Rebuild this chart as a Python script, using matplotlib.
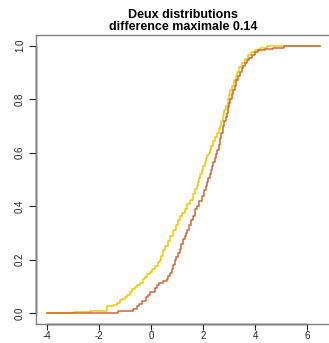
import matplotlib
matplotlib.use("Agg")
import matplotlib.pyplot as plt

x_jaune = [-4.0, -2.95, -2.35, -1.7, -1.68, -1.45, -1.3, -1.2, -1.1, -1.0, -0.92,
           -0.82, -0.73, -0.63, -0.55, -0.42, -0.3, -0.22, -0.15, -0.05, 0.05,
           0.15, 0.27, 0.33, 0.38, 0.46, 0.55, 0.65, 0.75, 0.85, 0.95, 1.05, 1.12,
           1.2, 1.3, 1.4, 1.5, 1.6, 1.69, 1.75, 1.8, 1.86, 1.9, 1.96, 2.0, 2.06,
           2.1, 2.16, 2.22, 2.27, 2.32, 2.4, 2.46, 2.52, 2.6, 2.65, 2.7, 2.76,
           2.82, 2.88, 2.95, 3.0, 3.05, 3.12, 3.18, 3.25, 3.3, 3.4, 3.5, 3.6,
           3.73, 3.85, 4.0, 4.2, 4.46, 6.5]
y_jaune = [0.0, 0.005, 0.01, 0.02, 0.027, 0.032, 0.04, 0.048, 0.055, 0.062, 0.07,
           0.08, 0.09, 0.098, 0.105, 0.115, 0.127, 0.136, 0.145, 0.155, 0.165,
           0.175, 0.19, 0.2, 0.215, 0.235, 0.25, 0.27, 0.29, 0.31, 0.33, 0.35,
           0.365, 0.375, 0.39, 0.41, 0.425, 0.445, 0.463, 0.475, 0.49, 0.505,
           0.52, 0.535, 0.55, 0.565, 0.58, 0.59, 0.6, 0.61, 0.625, 0.645, 0.66,
           0.675, 0.69, 0.7, 0.72, 0.74, 0.76, 0.775, 0.8, 0.82, 0.836, 0.85,
           0.87, 0.885, 0.9, 0.92, 0.937, 0.95, 0.966, 0.975, 0.985, 0.99, 1.0,
           1.0]

x_rouge = [-4.0, -1.27, -0.69, -0.54, -0.45, -0.35, -0.2, -0.1, -0.04, 0.15, 0.25,
           0.31, 0.45, 0.6, 0.65, 0.72, 0.8, 0.86, 0.92, 0.98, 1.04, 1.1, 1.16,
           1.23, 1.3, 1.35, 1.4, 1.47, 1.55, 1.6, 1.69, 1.75, 1.85, 1.95, 2.04,
           2.1, 2.15, 2.2, 2.25, 2.3, 2.35, 2.4, 2.45, 2.5, 2.54, 2.6, 2.65, 2.7,
           2.77, 2.82, 2.87, 2.92, 2.96, 3.0, 3.05, 3.1, 3.15, 3.22, 3.28, 3.35,
           3.42, 3.5, 3.55, 3.62, 3.69, 3.78, 3.88, 4.0, 4.1, 4.4, 4.7, 5.1, 6.5]
y_rouge = [0.0, 0.01, 0.015, 0.027, 0.035, 0.045, 0.06, 0.07, 0.08, 0.095, 0.105,
           0.115, 0.12, 0.127, 0.14, 0.15, 0.165, 0.18, 0.2, 0.21, 0.225, 0.24,
           0.26, 0.276, 0.29, 0.3, 0.31, 0.33, 0.35, 0.365, 0.39, 0.4, 0.42, 0.44,
           0.46, 0.475, 0.49, 0.505, 0.52, 0.535, 0.55, 0.565, 0.58, 0.595, 0.61,
           0.63, 0.655, 0.675, 0.7, 0.72, 0.735, 0.75, 0.77, 0.785, 0.8, 0.82,
           0.836, 0.85, 0.87, 0.885, 0.9, 0.915, 0.925, 0.935, 0.948, 0.955,
           0.966, 0.975, 0.985, 0.987, 0.99, 1.0, 1.0]

xticks = [-4, -2, 0, 2, 4, 6]
yticks = [0.0, 0.2, 0.4, 0.6, 0.8, 1.0]
titre = "Deux distributions\ndifference maximale 0.14"

plt.rcParams['font.family'] = ['Liberation Sans', 'DejaVu Sans']

fig = plt.figure(figsize=(3.29, 3.43), dpi=100)
ax = fig.add_axes([0.1094, 0.0554, 0.8967, 0.8426])

ax.plot(x_jaune, y_jaune, drawstyle='steps-post', color='#EEC900', lw=1.1)
ax.plot(x_rouge, y_rouge, drawstyle='steps-post', color='#CD6839', lw=1.1)

ax.set_xlim(-4.42, 6.92)
ax.set_ylim(-0.04, 1.04)
ax.set_xticks(xticks)
ax.set_xticklabels([str(t) for t in xticks])
ax.set_yticks(yticks)
ax.set_yticklabels(["%.1f" % t for t in yticks], rotation=90, va='center')
ax.tick_params(axis='y', direction='out', length=5, width=0.8, labelsize=7,
               color='#222222', labelcolor='#222222', pad=3)
ax.tick_params(axis='x', direction='out', length=4.2, width=0.8, labelsize=7,
               color='#222222', labelcolor='#222222', pad=1.2)

for s in ax.spines.values():
    s.set_color('#808080')
    s.set_linewidth(1.0)

# axis lines in black, between first and last tick like R's axis()
ax.plot([xticks[0], xticks[-1]], [0, 0], color='black', lw=1.0,
        transform=ax.get_xaxis_transform(), clip_on=False)
ax.plot([0, 0], [yticks[0], yticks[-1]], color='black', lw=1.0,
        transform=ax.get_yaxis_transform(), clip_on=False)

fig.text(0.556, 0.975, titre, ha='center', va='top', fontsize=9,
         fontweight='bold', linespacing=1.0)

fig.savefig("out.png", dpi=100)
